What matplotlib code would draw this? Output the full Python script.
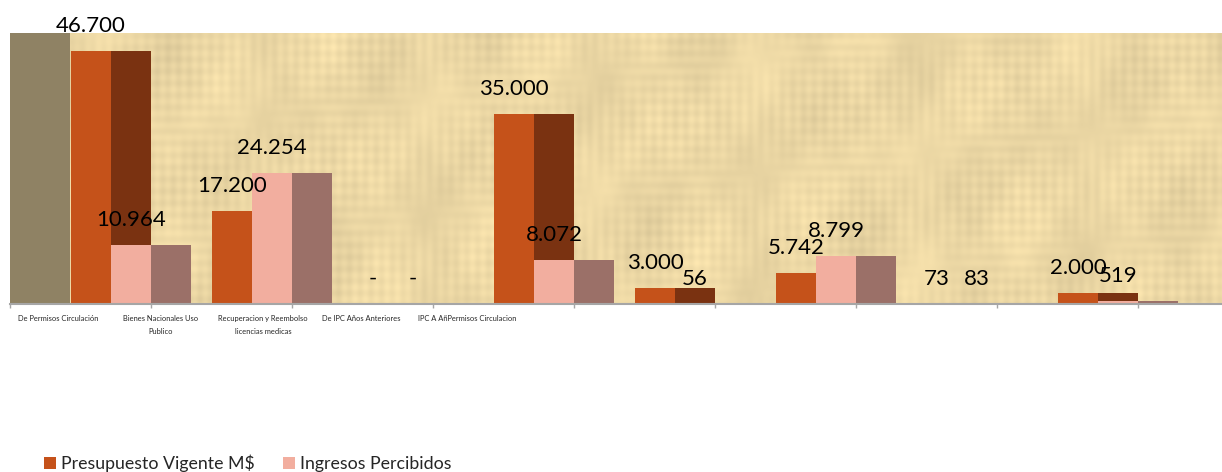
import numpy as np
import matplotlib
matplotlib.use("Agg")
import matplotlib.pyplot as plt

plt.rcParams['font.family'] = ['Lato', 'DejaVu Sans']

# Budget items (M$)
categories = ["Cat1", "Cat2", "Cat3", "Cat4", "Cat5", "Cat6", "Cat7", "Cat8"]
presupuesto = [46700, 17200, 0, 35000, 3000, 5742, 73, 2000]
ingresos = [10964, 24254, 0, 8072, 56, 8799, 83, 519]

axis_labels = [
    "De Permisos Circulación",
    "Bienes Nacionales Uso\nPublico",
    "Recuperacion y Reembolso\nlicencias medicas",
    "De IPC Años Anteriores",
    "IPC A AñPermisos Circulacion",
]
axis_label_pos = [0.34, 1.07, 1.794, 2.489, 3.241]

C_ORANGE = "#C5521A"
C_DARK = "#7A3211"
C_PINK = "#F2AE9F"
C_MAUVE = "#9B7068"
C_OLIVE = "#8F8264"

W, H = 1222, 472
fig = plt.figure(figsize=(W / 100, H / 100), dpi=100)
ax = fig.add_axes([10 / W, 168 / H, 1212 / W, 271 / H])

xmax = 1212 / 141
ax.set_xlim(0, xmax)
ax.set_ylim(0, 50000)

# papyrus-like background: fine woven fibres over a warm base tone
ny, nx = 271, 1212
yy, xx = np.mgrid[0:ny, 0:nx]
tex = (0.018 * np.sin(xx / 1.7) * np.sin(yy / 37.0 + xx / 300.0)
       + 0.016 * np.sin(yy / 1.9) * np.cos(xx / 53.0)
       + 0.022 * np.sin(xx / 17.0 + 1.7) * np.cos(yy / 71.0)
       + 0.015 * np.sin(xx / 41.0 + yy / 23.0)
       + 0.012 * np.cos(xx / 7.3) * np.sin(yy / 11.0))
base = np.array([0.925, 0.845, 0.645])
img = np.clip(base[None, None, :] * (1 + tex[..., None]), 0, 1)
ax.imshow(img, extent=[0, xmax, 0, 50000], aspect="auto", zorder=0,
          interpolation="bilinear")

x = np.arange(len(categories))
w = 40 / 141
x_or = x + 0.5745
x_pk = x + 0.858
x_mv = x + 1.142

# shaded block at the left edge of the plot area
ax.bar([30 / 141], [60000], width=60 / 141, color=C_OLIVE, zorder=1)

b_or = ax.bar(x_or, presupuesto, width=w, color=C_ORANGE, zorder=2,
              label="Presupuesto Vigente M$")
ax.bar(x_pk, presupuesto, width=w, color=C_DARK, zorder=2)
b_pk = ax.bar(x_pk, ingresos, width=w, color=C_PINK, zorder=3,
              label="Ingresos Percibidos")
ax.bar(x_mv, ingresos, width=w, color=C_MAUVE, zorder=2)


def fmt(v):
    return "-" if v == 0 else f"{v:,}".replace(",", ".")


for xs, vals in ((x_or, presupuesto), (x_pk, ingresos)):
    for xi, v in zip(xs, vals):
        ax.annotate(fmt(v), (xi, v), xytext=(0, 13.7), textcoords="offset points",
                    ha="center", va="baseline", fontsize=16, color="black",
                    zorder=5, annotation_clip=False)

# axis and category ticks
for s in ("top", "right", "left"):
    ax.spines[s].set_visible(False)
ax.spines["bottom"].set_color("#A6A6A6")
ax.spines["bottom"].set_linewidth(1.5)
ax.spines["bottom"].set_zorder(4)
ax.set_yticks([])
ax.set_xticks(np.arange(0, 9), minor=True)
ax.tick_params(axis="x", which="minor", length=3, color="#A6A6A6", width=1)
ax.set_xticks(axis_label_pos)
ax.set_xticklabels(axis_labels, fontsize=5.4, color="#262626", linespacing=1.9)
ax.tick_params(axis="x", which="major", length=0, pad=8)

fig.legend(handles=[b_or, b_pk], loc="lower left", bbox_to_anchor=(28 / W, -16 / H),
           ncol=2, frameon=False, fontsize=12.8, handlelength=0.65, handleheight=0.65,
           handletextpad=0.3, columnspacing=1.6, labelcolor="#262626")

fig.savefig("out.png", dpi=100, facecolor="white")
